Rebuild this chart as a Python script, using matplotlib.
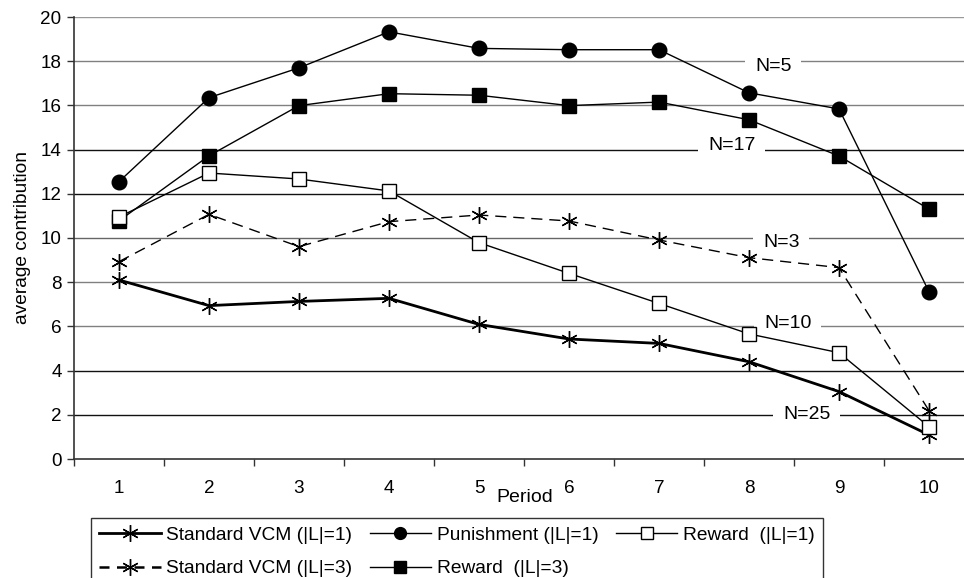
import matplotlib
matplotlib.use("Agg")
import matplotlib.pyplot as plt
from matplotlib.lines import Line2D

plt.rcParams['font.family'] = ['Liberation Sans', 'DejaVu Sans']

periods = [1, 2, 3, 4, 5, 6, 7, 8, 9, 10]
vcm_l1 = [8.10, 6.94, 7.13, 7.27, 6.09, 5.43, 5.23, 4.40, 3.05, 1.09]
vcm_l3 = [8.93, 11.07, 9.61, 10.74, 11.04, 10.77, 9.91, 9.11, 8.66, 2.19]
punish_l1 = [12.55, 16.35, 17.70, 19.33, 18.58, 18.52, 18.52, 16.57, 15.84, 7.57]
reward_l3 = [10.78, 13.72, 15.99, 16.53, 16.46, 15.99, 16.15, 15.35, 13.71, 11.31]
reward_l1 = [10.95, 12.94, 12.67, 12.13, 9.79, 8.40, 7.04, 5.66, 4.81, 1.46]

labels = ["Standard VCM (|L|=1)", "Standard VCM (|L|=3)", "Punishment (|L|=1)",
          "Reward  (|L|=3)", "Reward  (|L|=1)"]
yticks = [0, 2, 4, 6, 8, 10, 12, 14, 16, 18, 20]

# annotation labels placed on gridlines
ann_text = ["N=5", "N=17", "N=3", "N=10", "N=25"]
ann_x = [8.27, 7.81, 8.36, 8.43, 8.64]
ann_y = [17.75, 14.2, 9.78, 6.15, 2.0]

W, H = 964, 578
fig = plt.figure(figsize=(W / 100, H / 100), dpi=100)
ax = fig.add_axes([74 / W, 1 - 459 / H, 900 / W, (459 - 17) / H])

fs = 13.6
grid_colors = {2: '#111111', 4: '#111111', 6: '#808080', 8: '#808080',
               10: '#666666', 12: '#111111', 14: '#111111', 16: '#808080',
               18: '#808080', 20: '#999999'}
for yv in yticks[1:]:
    ax.axhline(yv, color=grid_colors[yv], lw=1.0, zorder=1)

asterisk = (6, 2, 0)
ax.plot(periods, vcm_l1, color='black', lw=2.0, marker=asterisk, ms=12, mew=1.0, zorder=3)
ax.plot(periods, vcm_l3, color='black', lw=1.0, ls=(0, (8, 5)), marker=asterisk, ms=12, mew=1.0, zorder=3)
ax.plot(periods, punish_l1, color='black', lw=1.0, marker='o', ms=10.5, zorder=3)
ax.plot(periods, reward_l3, color='black', lw=1.0, marker='s', ms=10, zorder=3)
ax.plot(periods, reward_l1, color='black', lw=1.0, marker='s', ms=10, mfc='white', mew=1.0, zorder=4)

for t, xv, yv in zip(ann_text, ann_x, ann_y):
    ax.text(xv, yv, t, fontsize=14, ha='center', va='center', zorder=2,
            bbox=dict(facecolor='white', edgecolor='none', pad=7))

ax.set_xlim(0.5, 10.5)
ax.set_ylim(0, 20)
ax.set_yticks(yticks)
ax.set_yticklabels([str(v) for v in yticks], fontsize=fs)
ax.set_xticks([p - 0.5 for p in periods] + [10.5])
ax.set_xticklabels([])
ax.set_xticks(periods, minor=True)
ax.set_xticklabels([str(p) for p in periods], minor=True, fontsize=fs)
ax.tick_params(axis='x', which='minor', length=0, pad=15)
ax.tick_params(axis='x', which='major', length=5, width=1, color='#333333', direction='out')
ax.tick_params(axis='y', length=5, width=1, color='#333333', direction='out', pad=4)

for s in ['top', 'right']:
    ax.spines[s].set_visible(False)
ax.spines['left'].set_color('#333333')
ax.spines['bottom'].set_color('#333333')
ax.spines['left'].set_linewidth(1.2)
ax.spines['bottom'].set_linewidth(1.2)

ax.set_ylabel("average contribution", fontsize=13.8, labelpad=7)
fig.text(525 / W, 1 - 498 / H, "Period", fontsize=14, ha='center', va='center')

handles = [
    Line2D([], [], color='black', lw=2.0, marker=asterisk, ms=12, mew=1.0),
    Line2D([], [], color='black', lw=1.8, ls=(0, (4, 3)), marker=asterisk, ms=12, mew=1.0),
    Line2D([], [], color='black', lw=1.0, marker='o', ms=8.5),
    Line2D([], [], color='black', lw=1.0, marker='s', ms=8.5),
    Line2D([], [], color='black', lw=1.0, marker='s', ms=8.5, mfc='white'),
]
leg = fig.legend(handles, labels, loc='upper left', bbox_to_anchor=(90.7 / W, 1 - 517.7 / H),
                 ncol=3, fontsize=13.8, frameon=True, fancybox=False, edgecolor='black',
                 handlelength=3.2, handletextpad=0.3, columnspacing=0.9,
                 borderpad=0.45, labelspacing=0.85, borderaxespad=0)
leg.get_frame().set_linewidth(1.0)

fig.savefig("out.png", dpi=100)
